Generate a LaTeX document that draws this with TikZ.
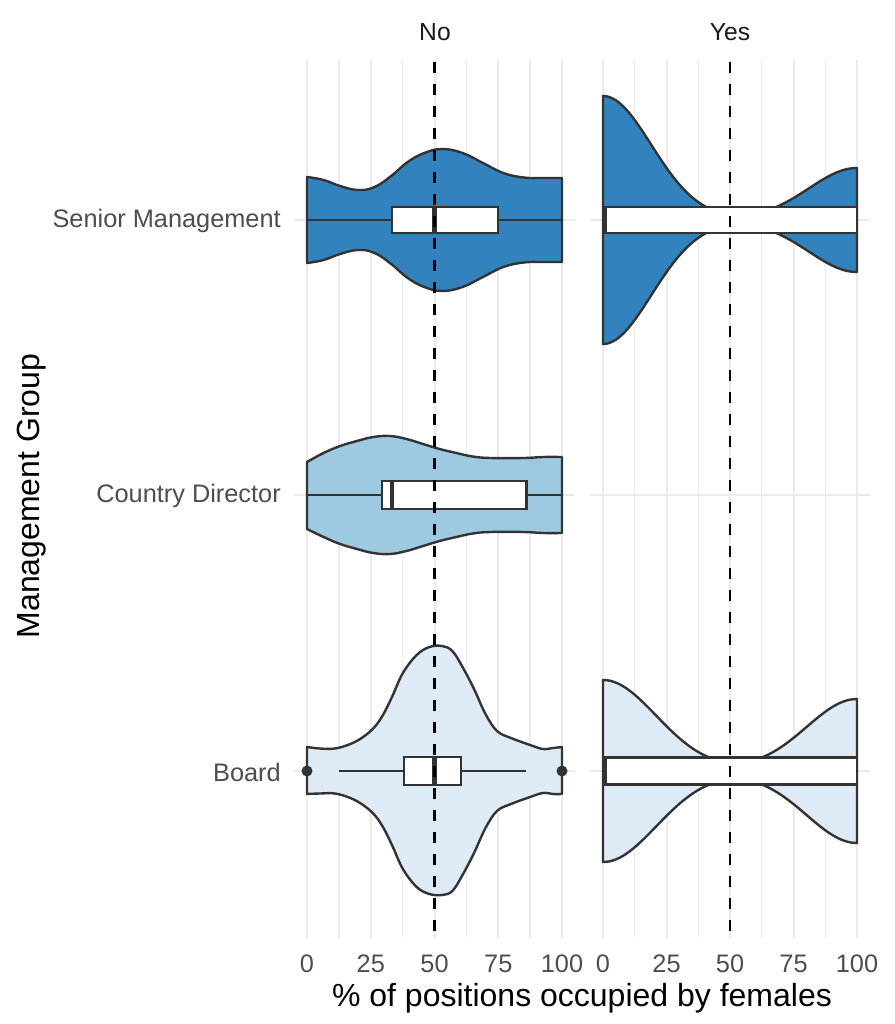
\documentclass[tikz,border=0pt]{standalone}
\usepackage{fontspec}
\setmainfont{Liberation Sans}
\definecolor{smc}{HTML}{3182BD}
\definecolor{cdc}{HTML}{9ECAE1}
\definecolor{bdc}{HTML}{DEEBF7}
\definecolor{olc}{HTML}{333333}
\definecolor{gridc}{HTML}{EBEBEB}
\definecolor{tickc}{HTML}{4D4D4D}
\definecolor{stripc}{HTML}{1A1A1A}
\begin{document}
\begin{tikzpicture}[x=0.75pt,y=-0.75pt,
  majorgrid/.style={draw=gridc,line width=1.5pt},
  minorgrid/.style={draw=gridc,line width=1pt},
  vio/.style={draw=olc,line width=1.8pt,line join=round},
  boxs/.style={draw=olc,fill=white,line width=1.8pt},
  medline/.style={draw=olc,line width=3.4pt},
  whisk/.style={draw=olc,line width=1.8pt},
  refline/.style={draw=black,line width=2.1pt,dash pattern=on 8.25pt off 8.25pt},
  ticklab/.style={text=tickc,font=\fontsize{19}{22}\selectfont,inner sep=0pt},
  striplab/.style={text=stripc,font=\fontsize{18.5}{22}\selectfont,inner sep=0pt},
  titlelab/.style={text=black,font=\fontsize{24}{28}\selectfont,inner sep=0pt}]
\useasboundingbox[fill=white] (0,0) rectangle (895,1024);

% ---------- grid lines ----------
\foreach \k in {0,...,8}{
  \pgfmathtruncatemacro{\ev}{mod(\k,2)}
  \ifnum\ev=0
    \draw[majorgrid] ({307+31.875*\k},60) -- ({307+31.875*\k},938);
    \draw[majorgrid] ({603+31.75*\k},60) -- ({603+31.75*\k},938);
  \else
    \draw[minorgrid] ({307+31.875*\k},60) -- ({307+31.875*\k},938);
    \draw[minorgrid] ({603+31.75*\k},60) -- ({603+31.75*\k},938);
  \fi
}
\foreach \yy in {220,495,771}{
  \draw[majorgrid] (294,\yy) -- (575,\yy);
  \draw[majorgrid] (590,\yy) -- (870,\yy);
}

% ---------- No panel ----------
% Senior Management
\begin{scope}[shift={(307,220)},xscale=2.55]
  \draw[vio,fill=smc] plot[smooth,tension=0.7] coordinates {(0,-43) (6.5,-40) (13,-34) (20,-30) (26.5,-33) (33,-44) (39.5,-58) (46,-67) (53,-71) (61,-67) (69,-57) (77,-47) (85,-42.5) (92.5,-42) (100,-42)}
    -- plot[smooth,tension=0.7] coordinates {(100,42) (92.5,42) (85,42.5) (77,47) (69,57) (61,67) (53,71) (46,67) (39.5,58) (33,44) (26.5,33) (20,30) (13,34) (6.5,40) (0,43)} -- cycle;
  \draw[whisk] (0,0) -- (33.3,0);
  \draw[whisk] (75,0) -- (100,0);
  \draw[boxs] (33.3,-13) rectangle (75,13);
  \draw[medline] (50,-13) -- (50,13);
\end{scope}
% Country Director
\begin{scope}[shift={(307,495)},xscale=2.55]
  \draw[vio,fill=cdc] plot[smooth,tension=0.7] coordinates {(0,-33) (6.5,-42) (13,-49) (19.6,-54) (26,-58) (32.5,-59) (39,-56) (45.5,-51) (52,-46) (58.6,-42) (65,-38.5) (72,-37) (85,-37) (92.5,-38) (100,-38)}
    -- plot[smooth,tension=0.7] coordinates {(100,38) (92.5,38) (85,37) (72,37) (65,38.5) (58.6,42) (52,46) (45.5,51) (39,56) (32.5,59) (26,58) (19.6,54) (13,49) (6.5,42) (0,34)} -- cycle;
  \draw[whisk] (0,0) -- (29.4,0);
  \draw[whisk] (86,0) -- (100,0);
  \draw[boxs] (29.4,-14) rectangle (86,14);
  \draw[medline] (33.3,-14) -- (33.3,14);
\end{scope}
% Board
\begin{scope}[shift={(307,771)},xscale=2.55]
  \draw[vio,fill=bdc] plot[smooth,tension=0.6] coordinates {(0,-24) (5,-22.5) (11,-22.5) (17,-27) (22,-34) (26.5,-44) (30,-57) (33.5,-75) (37.6,-98) (43,-116) (48,-124) (53,-125) (57,-120) (61,-104) (65.5,-82) (70,-57) (74.5,-40) (80,-33) (87.5,-26) (92.5,-22) (96.5,-23) (100,-24)}
    -- plot[smooth,tension=0.6] coordinates {(100,23) (96.5,23) (92.5,22) (87.5,26) (80,33) (74.5,40) (70,57) (65.5,82) (61,104) (57,120) (53,124) (48,123) (43,116) (37.6,98) (33.5,75) (30,57) (26.5,44) (22,34) (17,27) (11,22.5) (5,22.5) (0,23)} -- cycle;
  \draw[whisk] (12.5,0) -- (38,0);
  \draw[whisk] (60.4,0) -- (86,0);
  \draw[boxs] (38,-14) rectangle (60.4,14);
  \draw[medline] (50,-14) -- (50,14);
\end{scope}
\fill[olc] (307,771) circle[radius=5.5];
\fill[olc] (562,771) circle[radius=5.5];

% ---------- Yes panel ----------
% Senior Management
\begin{scope}[shift={(603,220)},xscale=2.54]
  \draw[vio,fill=smc] plot[domain=0:100,samples=81,smooth] (\x,{-(124*exp(-0.5*(\x/19)*(\x/19))+52*exp(-0.5*((100-\x)/19)*((100-\x)/19)))})
    -- plot[domain=100:0,samples=81,smooth] (\x,{124*exp(-0.5*(\x/19)*(\x/19))+52*exp(-0.5*((100-\x)/19)*((100-\x)/19))}) -- cycle;
  \draw[boxs] (0,-13) rectangle (100,13);
  \draw[medline] (0.6,-13) -- (0.6,13);
\end{scope}
% Board
\begin{scope}[shift={(603,771)},xscale=2.54]
  \draw[vio,fill=bdc] plot[domain=0:100,samples=81,smooth] (\x,{-(91*exp(-0.5*(\x/21)*(\x/21))+72*exp(-0.5*((100-\x)/20)*((100-\x)/20)))})
    -- plot[domain=100:0,samples=81,smooth] (\x,{91*exp(-0.5*(\x/21)*(\x/21))+72*exp(-0.5*((100-\x)/20)*((100-\x)/20))}) -- cycle;
  \draw[boxs] (0,-13.5) rectangle (100,13.5);
  \draw[medline] (0.6,-13.5) -- (0.6,13.5);
\end{scope}

% ---------- reference lines ----------
\coordinate (noTop) at (434.5,62);
\coordinate (noBot) at (434.5,938);
\coordinate (yesTop) at (730,62);
\coordinate (yesBot) at (730,938);
\draw[refline] (noTop) -- (noBot);
\draw[refline] (yesTop) -- (yesBot);

% ---------- strip labels ----------
\node[striplab] (stripNo) at (435,32) {No};
\node[striplab] (stripYes) at (730,32) {Yes};

% ---------- y tick labels ----------
\node[ticklab,anchor=east] (ySM) at (281,221) {Senior Management};
\node[ticklab,anchor=east] (yCD) at (281,496) {Country Director};
\node[ticklab,anchor=east] (yBD) at (281,772) {Board};

% ---------- x tick labels ----------
\foreach \v [count=\i from 0] in {0,25,50,75,100}{
  \node[ticklab] (xn\i) at ({307+63.75*\i},964) {\v};
  \node[ticklab] (xy\i) at ({603+63.5*\i},964) {\v};
}

% ---------- axis titles ----------
\node[titlelab] (xtitle) at (582,998) {\% of positions occupied by females};
\node[titlelab,rotate=90] (ytitle) at (32,496) {Management Group};
\end{tikzpicture}
\end{document}
